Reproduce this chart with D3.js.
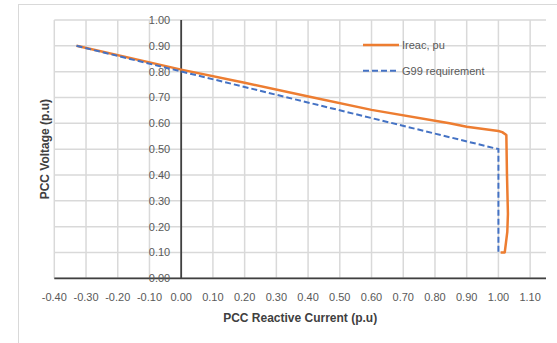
<!DOCTYPE html>
<html><head><meta charset="utf-8">
<script src="https://cdn.jsdelivr.net/npm/d3@7"></script>
<style>body{margin:0;background:#fff}svg{display:block}</style>
</head><body><svg id="c" width="557" height="343"></svg>
<script>
const xTicks = [-0.4,-0.3,-0.2,-0.1,0,0.1,0.2,0.3,0.4,0.5,0.6,0.7,0.8,0.9,1.0,1.1];
const yTicks = [0,0.1,0.2,0.3,0.4,0.5,0.6,0.7,0.8,0.9,1.0];
const ireacX = [-0.33, 0.0, 0.2, 0.405, 0.6, 0.846, 0.9, 1.0, 1.012, 1.025, 1.027, 1.03, 1.028, 1.02, 1.007];
const ireacY = [0.90, 0.808, 0.757, 0.703, 0.652, 0.600, 0.587, 0.570, 0.566, 0.555, 0.40, 0.25, 0.18, 0.10, 0.10];
const g99X = [-0.33, 1.0, 1.0];
const g99Y = [0.90, 0.50, 0.10];
const seriesNames = ["Ireac, pu", "G99 requirement"];

const svg = d3.select("#c");
const L=54.3, R=546, T=20, B=278.3;
const x = d3.scaleLinear().domain([-0.4,1.15]).range([L,R]);
const y = d3.scaleLinear().domain([0,1]).range([B,T]);
const font = "'Liberation Sans', Arial, sans-serif";
const fmt = d => d3.format(".2f")(d).replace("\u2212","-");

// chart frame
svg.append("rect").attr("x",18.5).attr("y",4.5).attr("width",560).attr("height",360)
  .attr("fill","none").attr("stroke","#d9d9d9").attr("stroke-width",1);

// gridlines
svg.append("g").selectAll("line").data(xTicks).join("line")
  .attr("x1",d=>x(d)).attr("x2",d=>x(d)).attr("y1",T).attr("y2",B)
  .attr("stroke","#d9d9d9").attr("stroke-width",1.5);
svg.append("g").selectAll("line").data(yTicks).join("line")
  .attr("x1",L).attr("x2",R).attr("y1",d=>y(d)).attr("y2",d=>y(d))
  .attr("stroke","#d9d9d9").attr("stroke-width",1.5);

// axes lines
svg.append("line").attr("x1",L).attr("x2",R).attr("y1",y(0)).attr("y2",y(0)).attr("stroke","#404040").attr("stroke-width",1.8);
svg.append("line").attr("x1",x(0)).attr("x2",x(0)).attr("y1",y(0)).attr("y2",y(1)).attr("stroke","#404040").attr("stroke-width",1.8);

// tick labels
svg.append("g").selectAll("text").data(xTicks).join("text")
  .attr("x",d=>x(d)).attr("y",300.5).attr("text-anchor","middle")
  .attr("font-family",font).attr("font-size","11px").attr("fill","#595959")
  .text(fmt);
svg.append("g").selectAll("text").data(yTicks).join("text")
  .attr("x",x(0)-11).attr("y",d=>y(d)+4).attr("text-anchor","end")
  .attr("font-family",font).attr("font-size","11px").attr("fill","#595959")
  .text(fmt);

// axis titles
svg.append("text").attr("x",(L+R)/2).attr("y",322).attr("text-anchor","middle")
  .attr("font-family",font).attr("font-size","12px").attr("font-weight","bold").attr("fill","#404040")
  .text("PCC Reactive Current (p.u)");
svg.append("text").attr("transform",`translate(49,${(T+B)/2}) rotate(-90)`).attr("text-anchor","middle")
  .attr("font-family",font).attr("font-size","12px").attr("font-weight","bold").attr("fill","#404040")
  .text("PCC Voltage (p.u)");

const line = d3.line().x(d=>x(d[0])).y(d=>y(d[1]));
svg.append("path").datum(ireacX.map((v,i)=>[v,ireacY[i]])).attr("d",line)
  .attr("fill","none").attr("stroke","#ED7D31").attr("stroke-width",2.5).attr("stroke-linejoin","round");
svg.append("path").datum(g99X.map((v,i)=>[v,g99Y[i]])).attr("d",line)
  .attr("fill","none").attr("stroke","#4472C4").attr("stroke-width",2).attr("stroke-dasharray","6,3");

// legend
const lg = svg.append("g");
const items = [{n:seriesNames[0],c:"#ED7D31",d:null,w:2.5,y:45},{n:seriesNames[1],c:"#4472C4",d:"6,3",w:2,y:70.7}];
items.forEach(it=>{
  lg.append("line").attr("x1",363).attr("x2",399).attr("y1",it.y).attr("y2",it.y)
    .attr("stroke",it.c).attr("stroke-width",it.w).attr("stroke-dasharray",it.d);
  lg.append("text").attr("x",402).attr("y",it.y+4).attr("font-family",font).attr("font-size","11px")
    .attr("fill","#595959").text(it.n);
});
</script></body></html>
